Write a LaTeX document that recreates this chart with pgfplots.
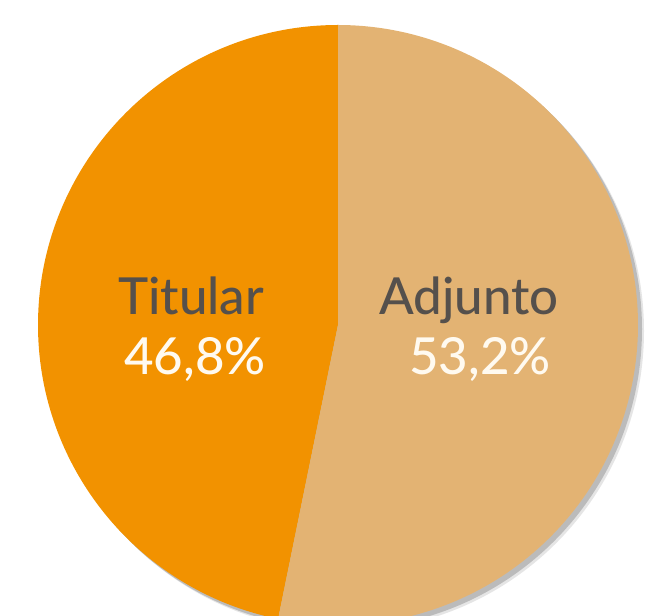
\documentclass[border=0pt]{standalone}
\usepackage{pgfplots}
\usepackage{pgfplotstable}
\pgfplotsset{compat=1.18}
\usepackage{fontspec}
\setmainfont{Lato}[UprightFont=* Medium]
\definecolor{titular}{RGB}{242,146,0}
\definecolor{adjunto}{RGB}{227,179,115}
\definecolor{labelgray}{RGB}{85,80,76}
\definecolor{pctwhite}{RGB}{255,250,240}

\pgfplotstableread{
label   value
Titular 46.8
Adjunto 53.2
}\piedata

\begin{document}
\begin{tikzpicture}
\begin{axis}[
  width=651pt, height=616pt, scale only axis,
  xmin=0, xmax=651, ymin=0, ymax=616,
  hide axis, clip=false,
]
\def\cx{338}\def\cy{291}\def\r{300pt}
% shadow
\fill[black!45, opacity=0.6] (axis cs:\cx+4,\cy-4) circle[radius=\r];
\fill[black!25, opacity=0.4] (axis cs:\cx+6,\cy-6) circle[radius=\r];
% slices, counterclockwise from the top
\pgfplotstablegetelem{0}{value}\of\piedata \let\va\pgfplotsretval
\pgfmathsetmacro\ea{90+3.6*\va}
\fill[titular] (axis cs:\cx,\cy) -- ++(90:\r) arc[start angle=90, end angle=\ea, radius=\r] -- cycle;
\fill[adjunto] (axis cs:\cx,\cy) -- ++(\ea:\r) arc[start angle=\ea, end angle=450, radius=\r] -- cycle;
% labels
\tikzset{lbl/.style={anchor=base, font=\fontsize{51}{54}\selectfont}}
\node[lbl, text=labelgray] at (axis cs:191,301) {Titular};
\node[lbl, text=pctwhite] at (axis cs:195,241) {46,8\%};
\node[lbl, text=labelgray] at (axis cs:469,301) {Adjunto};
\node[lbl, text=pctwhite] at (axis cs:480,241) {53,2\%};
\end{axis}
\pgfresetboundingbox
\useasboundingbox (0,0) rectangle (651pt,616pt);
\end{tikzpicture}
\end{document}
